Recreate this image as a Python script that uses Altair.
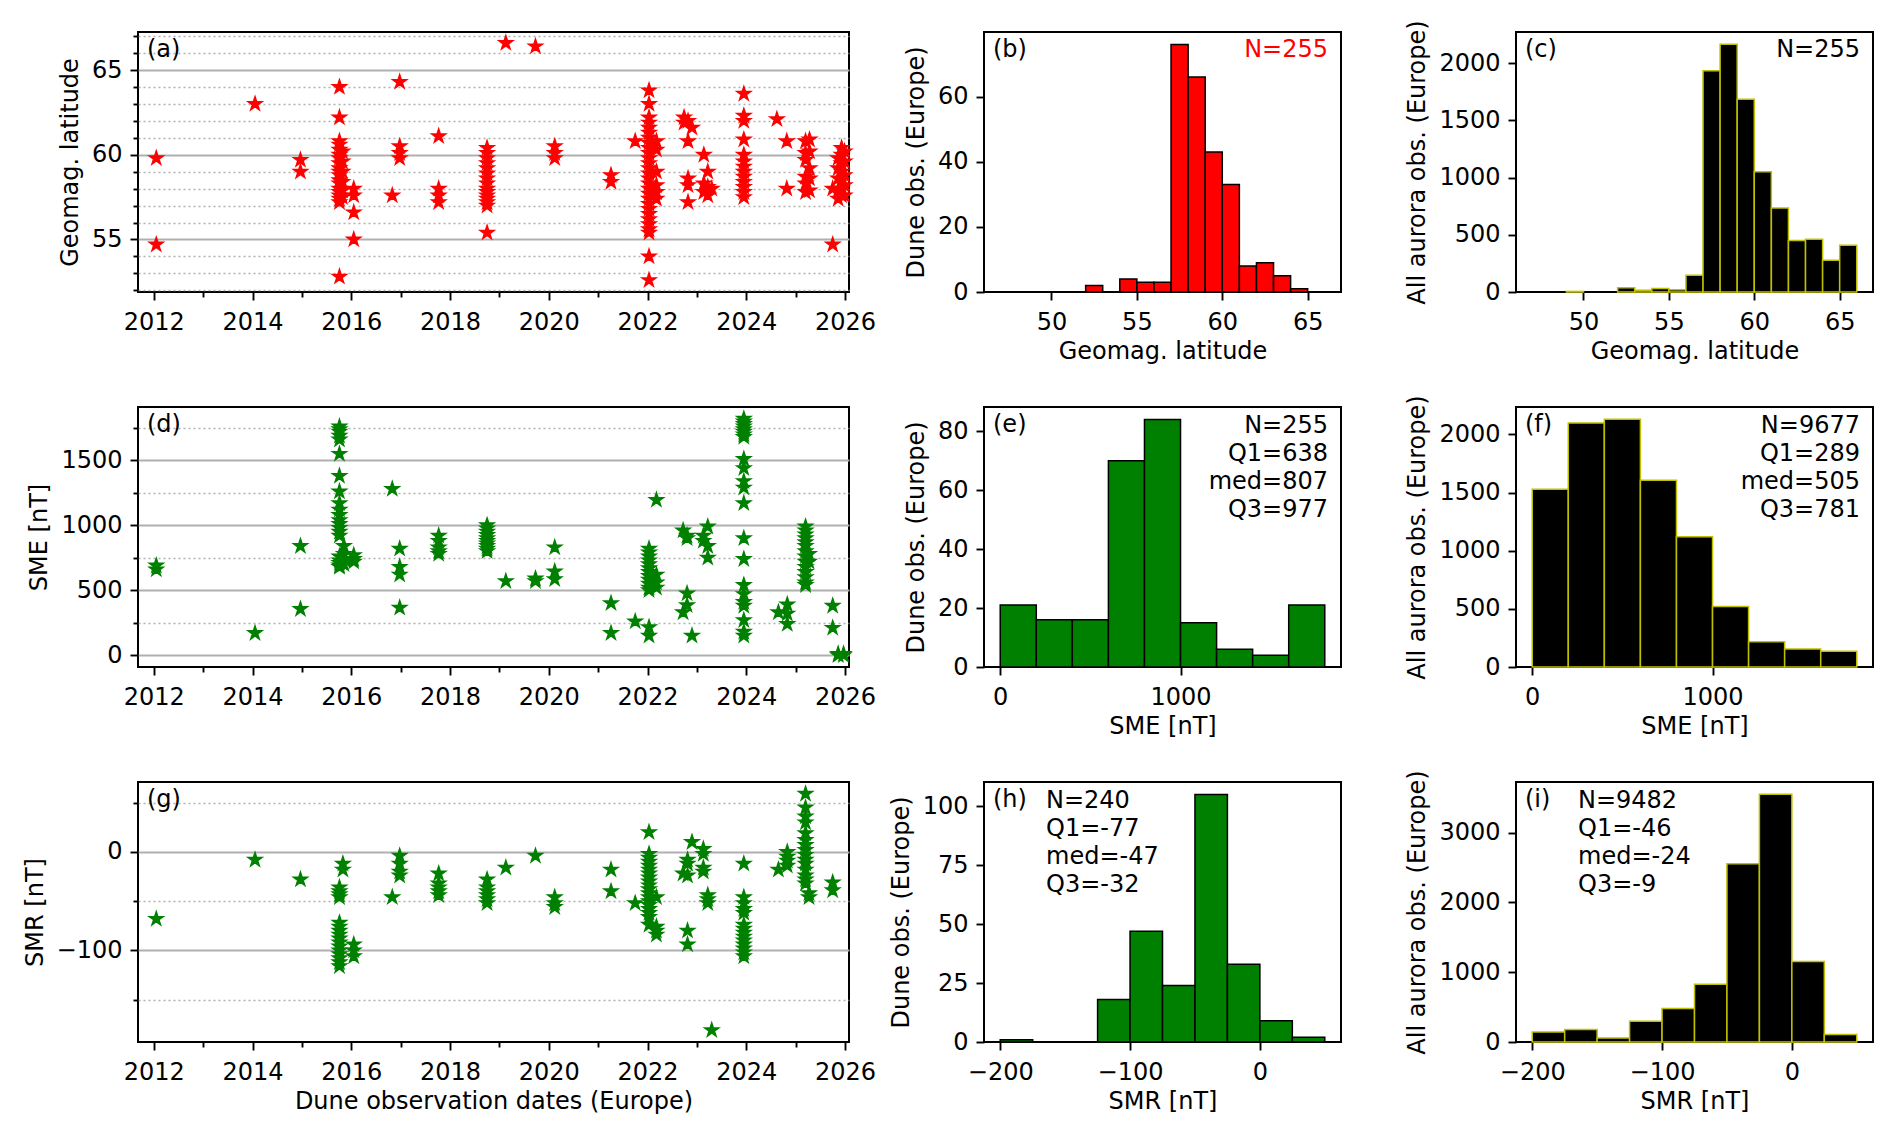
import altair as alt
import pandas as pd

FONT = "DejaVu Sans"
FS = 24
RED = "#ff0000"
GREEN = "#008000"
YEL = "#bfbf00"
GRID = "#b0b0b0"
W1, W2, H = 711, 357, 260
STAR = ("M0,-1L0.2245,-0.309L0.9511,-0.309L0.3633,0.118L0.5878,0.809L0,0.382"
        "L-0.5878,0.809L-0.3633,0.118L-0.9511,-0.309L-0.2245,-0.309Z")

# ---------------- (a) geomagnetic latitude of dune observations ----------------
lat_dates = [2012.05, 2014.05, 2014.97, 2015.76, 2015.82, 2016.05, 2016.83, 2016.98,
             2017.77, 2018.75, 2019.13, 2019.73, 2020.12, 2021.26, 2021.75, 2022.03,
             2022.18, 2022.74, 2022.82, 2022.90, 2023.14, 2023.22, 2023.30, 2023.95,
             2024.62, 2024.82, 2025.20, 2025.28, 2025.75, 2025.86, 2025.93, 2025.99]
lat_vals = [
    [59.8, 54.7], [63.0], [59.7, 59.0],
    [64.0, 62.2, 60.8, 60.6, 60.3, 60.0, 59.8, 59.5, 59.2, 59.0, 58.8, 58.5, 58.3, 58.0,
     57.8, 57.6, 57.4, 57.2, 52.8],
    [60.2, 59.6, 59.0, 58.4, 57.9, 57.5],
    [58.0, 57.6, 56.6, 55.0], [57.6], [64.3, 60.5, 60.1, 59.8], [61.1, 58.0, 57.6, 57.2],
    [60.4, 60.1, 59.8, 59.5, 59.2, 58.9, 58.6, 58.3, 58.0, 57.8, 57.6, 57.4, 57.2, 57.0, 55.4],
    [66.6], [66.4], [60.5, 60.1, 59.8], [58.8, 58.4], [60.8],
    [63.8, 63.0, 62.2, 61.9, 61.6, 61.3, 61.0, 60.7, 60.4, 60.1, 59.8, 59.5, 59.2, 58.9,
     58.6, 58.3, 58.0, 57.7, 57.4, 57.1, 56.8, 56.5, 56.2, 55.9, 55.6, 55.4, 54.0, 52.6],
    [60.8, 60.3, 59.0, 58.2, 57.8, 57.4], [62.2, 61.9], [62.0, 60.8, 58.6, 58.2, 57.2],
    [61.6], [60.0, 58.3, 57.8], [59.0, 58.1, 57.6], [58.0],
    [63.6, 62.3, 62.0, 60.9, 60.0, 59.6, 59.3, 59.0, 58.7, 58.4, 58.1, 57.8, 57.5],
    [62.1], [60.8, 58.0], [60.8, 60.1, 59.7, 58.7, 58.3, 57.8], [60.9, 60.2, 59.2, 58.6, 57.9],
    [58.0, 54.7], [59.8, 59.2, 58.6, 57.9, 57.4], [60.4, 60.0, 59.5, 59.0, 58.5, 58.0, 57.6],
    [60.2, 59.6, 58.8, 58.2, 57.6],
]

# ---------------- (d) SME ----------------
sme_dates = [2012.05, 2014.05, 2014.97, 2015.76, 2015.85, 2016.05, 2016.83, 2016.98,
             2017.77, 2018.75, 2019.13, 2019.73, 2020.12, 2021.26, 2021.75, 2022.03,
             2022.18, 2022.72, 2022.80, 2022.90, 2023.13, 2023.22, 2023.95, 2024.65,
             2024.83, 2025.20, 2025.27, 2025.75, 2025.86, 2025.97]
sme_vals = [
    [690, 660], [170], [840, 355],
    [1760, 1740, 1720, 1690, 1660, 1550, 1380, 1260, 1170, 1120, 1080, 1040, 1010, 980,
     950, 920, 760, 730, 710, 690, 680],
    [840, 780, 740, 700], [770, 740, 720], [1280], [820, 680, 620, 365],
    [920, 880, 830, 800, 780], [1000, 975, 950, 925, 900, 880, 860, 840, 820, 800],
    [570], [590, 570], [830, 645, 585], [400, 170], [260],
    [820, 790, 760, 730, 700, 670, 640, 610, 580, 550, 520, 500, 215, 150],
    [1195, 620, 560, 520], [960, 330], [920, 900, 475, 385], [150], [920, 880],
    [990, 840, 750],
    [1820, 1800, 1780, 1760, 1740, 1720, 1700, 1680, 1510, 1440, 1340, 1290, 1170, 900,
     740, 540, 470, 410, 380, 270, 180, 150],
    [330], [390, 320, 240],
    [990, 960, 930, 900, 870, 840, 800, 760, 720, 680, 640, 600, 560, 540],
    [780, 720], [380, 210], [10, 0], [10, 0],
]

# ---------------- (g) SMR ----------------
smr_dates = [2012.05, 2014.05, 2014.97, 2015.76, 2015.83, 2016.05, 2016.83, 2016.98,
             2017.77, 2018.75, 2019.13, 2019.73, 2020.12, 2021.26, 2021.75, 2022.03,
             2022.18, 2022.72, 2022.81, 2022.90, 2023.13, 2023.22, 2023.30, 2023.95,
             2024.65, 2024.83, 2025.20, 2025.27, 2025.75]
smr_vals = [
    [-68], [-8], [-28],
    [-36, -40, -43, -46, -72, -76, -80, -84, -88, -92, -96, -100, -104, -108, -112, -116],
    [-12, -18], [-94, -100, -106], [-46], [-4, -12, -20, -24], [-22, -32, -36, -40, -44],
    [-28, -36, -40, -44, -48, -52], [-16], [-4], [-46, -52, -56], [-18, -40], [-52],
    [20, -2, -6, -10, -14, -18, -22, -26, -30, -34, -38, -42, -46, -50, -54, -58, -62, -66, -74],
    [-46, -76, -80, -84], [-22], [-8, -12, -24, -80, -94], [10], [3, -2, -16, -20],
    [-44, -48, -52], [-181],
    [-12, -46, -52, -58, -62, -74, -78, -82, -86, -90, -94, -98, -102, -106],
    [-18], [0, -5, -9, -14],
    [59, 45, 36, 30, 19, 12, 7, 2, -3, -8, -12, -18, -24, -28, -32],
    [-42, -46], [-31, -39],
]

# ---------------- histograms ----------------
lat_edges = list(range(47, 67))
dune_lat_counts = [0, 0, 0, 0, 0, 2, 0, 4, 3, 3, 76, 66, 43, 33, 8, 9, 5, 1, 0]
all_lat_counts = [0, 0, 5, 0, 0, 38, 15, 30, 20, 146, 1933, 2164, 1684, 1050, 734, 450, 462, 278, 409]

sme_edges = list(range(0, 2000, 200))
dune_sme_counts = [21, 16, 16, 70, 84, 15, 6, 4, 21]
all_sme_counts = [1528, 2098, 2129, 1606, 1119, 521, 216, 155, 135]

smr_edges = list(range(-200, 75, 25))
dune_smr_counts = [1, 0, 0, 18, 47, 24, 105, 33, 9, 2]
all_smr_counts = [144, 178, 58, 298, 480, 826, 2554, 3548, 1152, 106]

stats_e = ["N=255", "Q1=638", "med=807", "Q3=977"]
stats_f = ["N=9677", "Q1=289", "med=505", "Q3=781"]
stats_h = ["N=240", "Q1=-77", "med=-47", "Q3=-32"]
stats_i = ["N=9482", "Q1=-46", "med=-24", "Q3=-9"]


def expand(dates, vals):
    rows = []
    for d, vs in zip(dates, vals):
        for v in vs:
            rows.append({"year": d, "v": v})
    return pd.DataFrame(rows)


def hist_df(edges, counts):
    return pd.DataFrame({"lo": edges[:-1], "hi": edges[1:], "n": counts})


def txt(lines, x, y, align="left", color="black"):
    return alt.Chart(pd.DataFrame({"k": [0]})).mark_text(
        text=lines, align=align, baseline="top", font=FONT, fontSize=FS,
        color=color, lineHeight=28,
    ).encode(x=alt.value(x), y=alt.value(y))


def year_axis(title=None):
    return alt.Axis(
        values=list(range(2012, 2027)), format="d", title=title,
        labelExpr="datum.value % 2 === 0 ? datum.label : ''",
        tickSize={"condition": {"test": "datum.value % 2 === 0", "value": 8}, "value": 5},
        grid=False, labelFlush=False, labelOverlap=False,
    )


def minor_axis(values, major, title):
    test = f"datum.value % {major} === 0"
    return alt.Axis(
        values=values, format="d", title=title,
        labelExpr=f"{test} ? datum.label : ''",
        tickSize={"condition": {"test": test, "value": 8}, "value": 5},
        grid=True, gridColor=GRID,
        gridDash={"condition": {"test": test, "value": [1, 0]}, "value": [2, 3]},
        gridWidth={"condition": {"test": test, "value": 1.9}, "value": 1.5},
        labelFlush=False, labelOverlap=False,
    )


XDOM = [2011.68, 2026.08]


def scatter(df, color, ydom, yaxis, label, xtitle=None):
    pts = alt.Chart(df).mark_point(
        shape=STAR, filled=True, size=210, fill=color, stroke=color,
        strokeWidth=1.5, opacity=1,
    ).encode(
        x=alt.X("year:Q", scale=alt.Scale(domain=XDOM, nice=False, zero=False),
                axis=year_axis(xtitle)),
        y=alt.Y("v:Q", scale=alt.Scale(domain=ydom, nice=False, zero=False), axis=yaxis),
    )
    return alt.layer(pts, txt(label, 9, 6)).properties(width=W1, height=H)


def hist(df, fill, edge, xdom, xvals, ydom, yvals, xtitle, ytitle, texts):
    bars = alt.Chart(df).transform_filter("datum.n > 0").mark_rect(
        fill=fill, stroke=edge, strokeWidth=1.5,
    ).encode(
        x=alt.X("lo:Q", scale=alt.Scale(domain=xdom, nice=False, zero=False),
                axis=alt.Axis(values=xvals, format="d", title=xtitle, labelFlush=False)),
        x2="hi:Q",
        y=alt.Y("n:Q", scale=alt.Scale(domain=ydom, nice=False, zero=False),
                axis=alt.Axis(values=yvals, format="d", title=ytitle, labelFlush=False)),
        y2=alt.datum(0),
    )
    return alt.layer(bars, *texts).properties(width=W2, height=H)


pa = scatter(expand(lat_dates, lat_vals), RED, [51.9, 67.25],
             minor_axis(list(range(52, 68)), 5, "Geomag. latitude"), "(a)")
pd_ = scatter(expand(sme_dates, sme_vals), GREEN, [-91, 1911],
              minor_axis(list(range(0, 1751, 250)), 500, "SME [nT]"), "(d)")
pg = scatter(expand(smr_dates, smr_vals), GREEN, [-193, 71],
             minor_axis([-150, -100, -50, 0, 50], 100, "SMR [nT]"), "(g)",
             xtitle="Dune observation dates (Europe)")

LAT_DOM = [46.05, 66.95]
SME_DOM = [-90, 1890]
SMR_DOM = [-212.5, 62.5]

pb = hist(hist_df(lat_edges, dune_lat_counts), RED, "black", LAT_DOM, [50, 55, 60, 65],
          [0, 79.8], [0, 20, 40, 60], "Geomag. latitude", "Dune obs. (Europe)",
          [txt("(b)", 9, 6), txt("N=255", W2 - 13, 6, "right", RED)])
pc = hist(hist_df(lat_edges, all_lat_counts), "black", YEL, LAT_DOM, [50, 55, 60, 65],
          [0, 2272], [0, 500, 1000, 1500, 2000], "Geomag. latitude", "All aurora obs. (Europe)",
          [txt("(c)", 9, 6), txt("N=255", W2 - 13, 6, "right")])
pe = hist(hist_df(sme_edges, dune_sme_counts), GREEN, "black", SME_DOM, [0, 1000],
          [0, 88.2], [0, 20, 40, 60, 80], "SME [nT]", "Dune obs. (Europe)",
          [txt("(e)", 9, 6), txt(stats_e, W2 - 13, 7, "right")])
pf = hist(hist_df(sme_edges, all_sme_counts), "black", YEL, SME_DOM, [0, 1000],
          [0, 2235], [0, 500, 1000, 1500, 2000], "SME [nT]", "All aurora obs. (Europe)",
          [txt("(f)", 9, 6), txt(stats_f, W2 - 13, 7, "right")])
ph = hist(hist_df(smr_edges, dune_smr_counts), GREEN, "black", SMR_DOM, [-200, -100, 0],
          [0, 110.25], [0, 25, 50, 75, 100], "SMR [nT]", "Dune obs. (Europe)",
          [txt("(h)", 9, 6), txt(stats_h, 62, 7)])
pi = hist(hist_df(smr_edges, all_smr_counts), "black", YEL, SMR_DOM, [-200, -100, 0],
          [0, 3725], [0, 1000, 2000, 3000], "SMR [nT]", "All aurora obs. (Europe)",
          [txt("(i)", 9, 6), txt(stats_i, 62, 7)])


def spacer(w):
    return alt.Chart(pd.DataFrame({"s": [0]})).mark_point(opacity=0).encode(
        x=alt.X("s:Q", axis=None), y=alt.Y("s:Q", axis=None),
    ).properties(width=w, height=H, view=alt.ViewBackground(stroke="transparent"))


chart = alt.concat(
    pa, spacer(135), pb, spacer(175), pc,
    pd_, spacer(135), pe, spacer(175), pf,
    pg, spacer(135), ph, spacer(175), pi,
    columns=5, spacing={"row": 115, "column": 0}, bounds="flush",
).properties(
    padding={"left": 14, "top": 10, "right": 5, "bottom": 5},
).configure_view(
    stroke="black", strokeWidth=2,
).configure_axis(
    labelFont=FONT, titleFont=FONT, labelFontSize=FS, titleFontSize=FS,
    labelColor="black", titleColor="black", titleFontWeight="normal",
    tickColor="black", tickWidth=1.9, tickSize=8, labelPadding=8,
    domain=False, grid=False, titlePadding=9,
).configure_axisX(titlePadding=5, labelPadding=10)

chart.save("out.html", embed_options={"renderer": "svg", "actions": False})
